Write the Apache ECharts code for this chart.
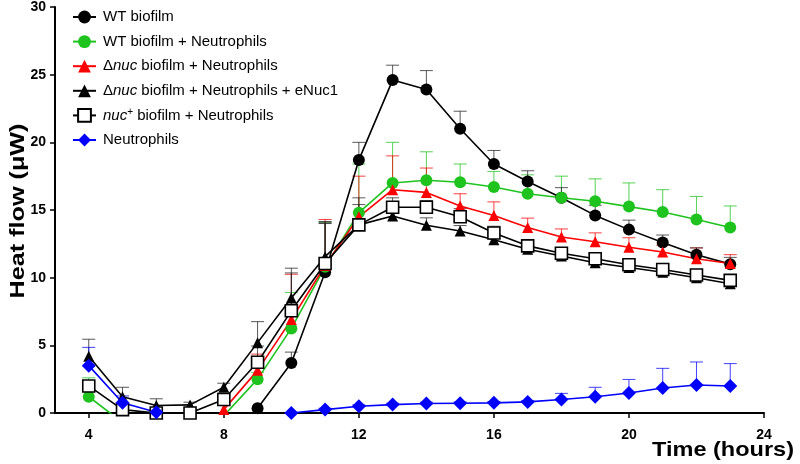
<!DOCTYPE html>
<html>
<head>
<meta charset="utf-8">
<script src="https://cdn.jsdelivr.net/npm/echarts@6/dist/echarts.min.js"></script>
<style>
html,body{margin:0;padding:0;background:#fff;}
#chart{width:800px;height:464px;}
</style>
</head>
<body>
<div id="chart"></div>
<script>
// Time points (hours)
const hours = [4,5,6,7,8,9,10,11,12,13,14,15,16,17,18,19,20,21,22,23];
const xTicks = [4,8,12,16,20,24];

// Series means (µW)
const wtBiofilm   = [null,null,null,null,null,0.35,3.7,10.4,18.7,24.6,23.9,21.0,18.4,17.1,15.9,14.6,13.55,12.6,11.7,11.0];
const wtNeut      = [1.2,-0.7,-1.2,-1.2,-0.2,2.5,6.25,10.8,14.8,17.0,17.2,17.05,16.7,16.2,15.9,15.65,15.25,14.85,14.3,13.7];
const nucNeut     = [null,null,null,null,0.25,3.15,6.9,10.9,14.5,16.5,16.3,15.3,14.6,13.7,13.0,12.66,12.25,11.9,11.4,11.05];
const nucNeutENuc = [4.2,1.2,0.55,0.6,1.9,5.2,8.5,11.55,13.9,14.55,13.87,13.45,12.8,12.1,11.6,11.1,10.75,10.4,10.0,9.55];
const nucPlusNeut = [2.0,0.25,0.0,0.0,1.0,3.75,7.55,11.05,13.9,15.2,15.2,14.5,13.3,12.35,11.8,11.4,10.95,10.6,10.2,9.8];
const neutrophils = [3.5,0.76,0.05,null,null,null,0.0,0.25,0.5,0.62,0.7,0.72,0.75,0.82,1.0,1.2,1.48,1.85,2.07,2.0];

// Upper error bars (SEM)
const wtBiofilmErr   = [null,null,null,null,null,0,0.8,3.6,1.3,1.1,1.4,1.3,1.0,0.8,0.75,0.75,0.7,0.55,0.5,0.5];
const wtNeutErr      = [1.4,null,null,null,null,0.5,2.65,3.3,3.6,3.0,2.1,1.35,1.15,1.4,1.6,1.65,1.75,1.65,1.7,1.6];
const nucNeutErr     = [null,null,null,null,0.3,1.2,3.35,3.4,3.0,2.5,1.8,0.9,1.0,0.7,0.6,0.65,0.7,0.5,0.8,0.65];
const nucNeutENucErr = [1.25,0.7,0.5,0.2,0.3,1.55,2.2,2.6,2.0,0.6,0.55,0.4,0.4,0.3,0.3,0.3,0.3,0.3,0.3,0.3];
const nucPlusNeutErr = [0.3,0.3,0.2,0.2,0.3,1.2,2.8,3.0,1.5,0.7,0.5,0.6,0.5,0.4,0.4,0.4,0.4,0.4,0.4,0.4];
const neutrophilsErr = [1.35,0.5,0.2,null,null,null,0,0.1,0.1,0.1,0.1,0.1,0.1,0.1,0.45,0.7,1.0,1.45,1.7,1.65];

const names = [
  'WT biofilm',
  'WT biofilm + Neutrophils',
  'Δnuc biofilm + Neutrophils',
  'Δnuc biofilm + Neutrophils + eNuc1',
  'nuc+ biofilm + Neutrophils',
  'Neutrophils'
];

const GREEN = '#1ec31e', RED = '#ff0000', BLUE = '#0000ff', BLACK = '#000000';
const FONT = 'Liberation Sans, Arial, sans-serif';

function pairs(arr){ return hours.map((h,i)=>[h, arr[i]]); }
function errPairs(arr, err){
  const out = [];
  hours.forEach((h,i)=>{ if(arr[i]!=null && err[i]!=null && err[i]>0) out.push([h, arr[i], err[i]]); });
  return out;
}
function errSeries(arr, err, color){
  return {
    type:'custom', z:1, clip:true, silent:true,
    encode:{x:0, y:1},
    data: errPairs(arr, err),
    renderItem: function(params, api){
      const x = api.value(0), m = api.value(1), e = api.value(2);
      const p0 = api.coord([x, m]), p1 = api.coord([x, m+e]);
      const st = {stroke: color, lineWidth: 1, opacity: 0.75};
      return {type:'group', children:[
        {type:'line', shape:{x1:p0[0], y1:p0[1], x2:p1[0], y2:p1[1]}, style:st},
        {type:'line', shape:{x1:p1[0]-6.5, y1:p1[1], x2:p1[0]+6.5, y2:p1[1]}, style:st}
      ]};
    }
  };
}
function lineSeries(name, arr, symbol, size, color, extra){
  const s = {
    name: name, type:'line', data: pairs(arr), symbol: symbol, symbolSize: size,
    connectNulls:false, clip:true, z:3,
    lineStyle:{color: color, width:1.6},
    itemStyle:{color: color},
    emphasis:{disabled:true}
  };
  return Object.assign(s, extra||{});
}

const legendFmt = {
  'WT biofilm':'{n|WT biofilm}',
  'WT biofilm + Neutrophils':'{n|WT biofilm + Neutrophils}',
  'Δnuc biofilm + Neutrophils':'{n|Δ}{i|nuc}{n| biofilm + Neutrophils}',
  'Δnuc biofilm + Neutrophils + eNuc1':'{n|Δ}{i|nuc}{n| biofilm + Neutrophils + eNuc1}',
  'nuc+ biofilm + Neutrophils':'{i|nuc}{s|+}{n| biofilm + Neutrophils}',
  'Neutrophils':'{n|Neutrophils}'
};

const chart = echarts.init(document.getElementById('chart'), null, {renderer:'canvas'});
chart.setOption({
  animation:false,
  backgroundColor:'#ffffff',
  textStyle:{fontFamily:FONT},
  grid:{left:55, right:36, top:7, bottom:51, containLabel:false},
  legend:{
    data: names,
    orient:'vertical', left:67, top:4,
    itemWidth:23, itemHeight:16, itemGap:8.6,
    selectedMode:false,
    formatter: function(n){ return legendFmt[n]; },
    textStyle:{
      color:'#000', fontSize:15, lineHeight:16, padding:[0,0,0,2],
      rich:{
        n:{fontSize:15, color:'#000', fontFamily:FONT, lineHeight:16},
        i:{fontSize:15, color:'#000', fontStyle:'italic', fontFamily:FONT, lineHeight:16},
        s:{fontSize:10, color:'#000', fontFamily:FONT, verticalAlign:'top', lineHeight:10}
      }
    }
  },
  xAxis:{
    type:'value', min:3, max:24,
    axisLine:{lineStyle:{color:'#000', width:2}},
    axisTick:{show:true, length:5, lineStyle:{color:'#000', width:1.5}, customValues: xTicks},
    axisLabel:{color:'#000', fontWeight:'bold', fontSize:14, margin:15, customValues: xTicks},
    splitLine:{show:false}
  },
  yAxis:{
    type:'value', min:0, max:30, interval:5,
    axisLine:{show:true, lineStyle:{color:'#000', width:2}},
    axisTick:{show:true, length:5, lineStyle:{color:'#000', width:1.5}},
    axisLabel:{color:'#000', fontWeight:'bold', fontSize:14, margin:9},
    splitLine:{show:false}
  },
  graphic:[
    {
      type:'text', x:723, y:450, scaleX:1.12,
      style:{text:'Time (hours)', fill:'#000', font:'bold 21px "Liberation Sans", Arial, sans-serif', align:'center', verticalAlign:'middle'}
    },
    {
      type:'text', x:18, y:211, rotation:Math.PI/2, scaleX:1.2,
      style:{text:'Heat flow (μW)', fill:'#000', font:'bold 21px "Liberation Sans", Arial, sans-serif', align:'center', verticalAlign:'middle'}
    }
  ],
  series:[
    errSeries(wtNeut, wtNeutErr, GREEN),
    errSeries(nucNeut, nucNeutErr, RED),
    errSeries(nucNeutENuc, nucNeutENucErr, '#222'),
    errSeries(nucPlusNeut, nucPlusNeutErr, '#222'),
    errSeries(neutrophils, neutrophilsErr, BLUE),
    errSeries(wtBiofilm, wtBiofilmErr, '#222'),
    lineSeries(names[0], wtBiofilm, 'circle', 12, BLACK),
    lineSeries(names[1], wtNeut, 'circle', 12, GREEN),
    lineSeries(names[2], nucNeut, 'triangle', 11, RED),
    lineSeries(names[3], nucNeutENuc, 'triangle', 11, BLACK),
    lineSeries(names[4], nucPlusNeut, 'rect', 12, BLACK, {
      itemStyle:{color:'#ffffff', borderColor:'#000', borderWidth:1.6},
      lineStyle:{color:'#000', width:1.6}
    }),
    lineSeries(names[5], neutrophils, 'diamond', 14, BLUE)
  ]
});
</script>
</body>
</html>
